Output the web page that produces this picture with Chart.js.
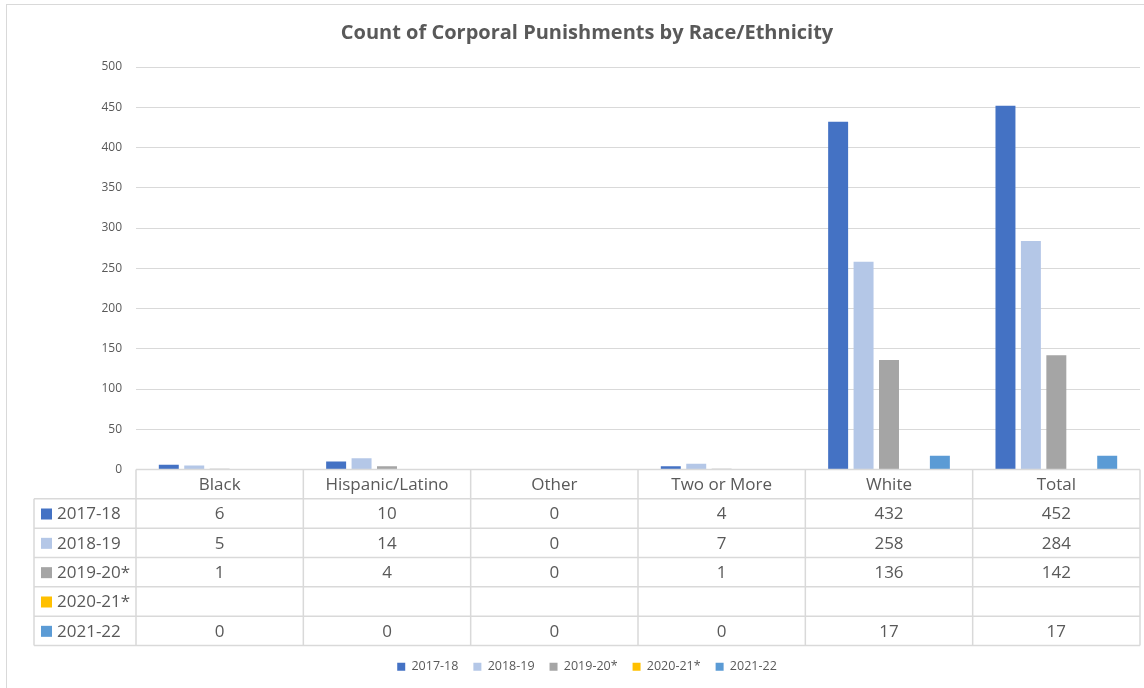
<!DOCTYPE html>
<html>
<head>
<meta charset="utf-8">
<script src="https://cdn.jsdelivr.net/npm/chart.js@4.4.1/dist/chart.umd.min.js"></script>
<style>
  html, body { margin: 0; padding: 0; background: #fff; }
  #frame {
    position: absolute; left: 6px; top: 4px; width: 1200px; height: 720px;
    border-left: 1px solid #d9d9d9; border-top: 1px solid #d9d9d9;
  }
  #wrap { position: absolute; left: 0; top: 0; width: 1144px; height: 688px; }
</style>
</head>
<body>
<div id="frame"></div>
<div id="wrap"><canvas id="chart"></canvas></div>
<script>
const categories = ['Black', 'Hispanic/Latino', 'Other', 'Two or More', 'White', 'Total'];

const seriesNames = ['2017-18', '2018-19', '2019-20*', '2020-21*', '2021-22'];
const values2017 = [6, 10, 0, 4, 432, 452];
const values2018 = [5, 14, 0, 7, 258, 284];
const values2019 = [1, 4, 0, 1, 136, 142];
const values2020 = [null, null, null, null, null, null];
const values2021 = [0, 0, 0, 0, 17, 17];

const yTicks = [0, 50, 100, 150, 200, 250, 300, 350, 400, 450, 500];

const colors = ['#4472C4', '#B4C7E7', '#A5A5A5', '#FFC000', '#5B9BD5'];
const textColor = '#595959';
const lineColor = '#d9d9d9';
const fontFamily = '"Open Sans", "Noto Sans", sans-serif';

const seriesValues = [values2017, values2018, values2019, values2020, values2021];

// data table drawn underneath the plot, inside the space reserved by the x axis
const dataTable = {
  id: 'dataTable',
  afterDraw(chart) {
    const ctx = chart.ctx;
    const x = chart.scales.x;
    const area = chart.chartArea;
    const top = x.top;
    const rows = seriesNames.length + 1;
    const rowH = (x.bottom - x.top) / rows;
    const colW = (area.right - area.left) / categories.length;
    const tableLeft = 34;

    ctx.save();
    ctx.strokeStyle = lineColor;
    ctx.lineWidth = 1.5;
    ctx.beginPath();
    // header top line
    ctx.moveTo(area.left, top);
    ctx.lineTo(area.right, top);
    // row lines
    for (let r = 1; r <= rows; r++) {
      const y = top + r * rowH;
      ctx.moveTo(tableLeft, y);
      ctx.lineTo(area.right, y);
    }
    // left edge of the series column
    ctx.moveTo(tableLeft, top + rowH);
    ctx.lineTo(tableLeft, x.bottom);
    // category column edges
    for (let c = 0; c <= categories.length; c++) {
      const cx = area.left + c * colW;
      ctx.moveTo(cx, top);
      ctx.lineTo(cx, x.bottom);
    }
    ctx.stroke();

    ctx.fillStyle = textColor;
    ctx.font = '17px ' + fontFamily;
    ctx.textAlign = 'center';
    ctx.textBaseline = 'middle';
    categories.forEach((name, i) => {
      ctx.fillText(name, x.getPixelForValue(i), top + rowH / 2 + 1);
    });

    seriesNames.forEach((name, s) => {
      const cy = top + (s + 1.5) * rowH + 1;
      ctx.fillStyle = colors[s];
      ctx.fillRect(41, cy - 6, 11, 11);
      ctx.fillStyle = textColor;
      ctx.textAlign = 'left';
      ctx.fillText(name, 57, cy);
      ctx.textAlign = 'center';
      seriesValues[s].forEach((v, i) => {
        if (v !== null) ctx.fillText(String(v), x.getPixelForValue(i), cy);
      });
    });
    ctx.restore();
  }
};

new Chart(document.getElementById('chart'), {
  type: 'bar',
  data: {
    labels: categories,
    datasets: seriesNames.map((name, s) => ({
      label: name,
      data: seriesValues[s],
      backgroundColor: colors[s],
      borderWidth: 0,
      categoryPercentage: 0.76,
      barPercentage: 0.785
    }))
  },
  options: {
    responsive: true,
    maintainAspectRatio: false,
    animation: false,
    layout: { padding: { left: 34, right: 4, top: 0, bottom: 5 } },
    plugins: {
      title: {
        display: true,
        text: 'Count of Corporal Punishments by Race/Ethnicity',
        color: textColor,
        font: { family: fontFamily, size: 20, weight: 'bold' },
        padding: { top: 21, bottom: 22 }
      },
      legend: {
        position: 'bottom',
        labels: {
          color: textColor,
          font: { family: fontFamily, size: 12.5 },
          boxWidth: 8,
          boxHeight: 8,
          padding: 15
        }
      },
      tooltip: { enabled: false }
    },
    scales: {
      x: {
        grid: { display: false },
        border: { display: false },
        ticks: { display: false },
        afterFit(scale) { scale.height = 176; }
      },
      y: {
        min: 0,
        max: 500,
        afterBuildTicks(scale) { scale.ticks = yTicks.map(v => ({ value: v })); },
        grid: { color: lineColor, drawTicks: false },
        border: { display: false },
        ticks: {
          color: textColor,
          font: { family: fontFamily, size: 12 },
          padding: 14
        },
        afterFit(scale) { scale.width = 102; }
      }
    }
  },
  plugins: [dataTable]
});
</script>
</body>
</html>
